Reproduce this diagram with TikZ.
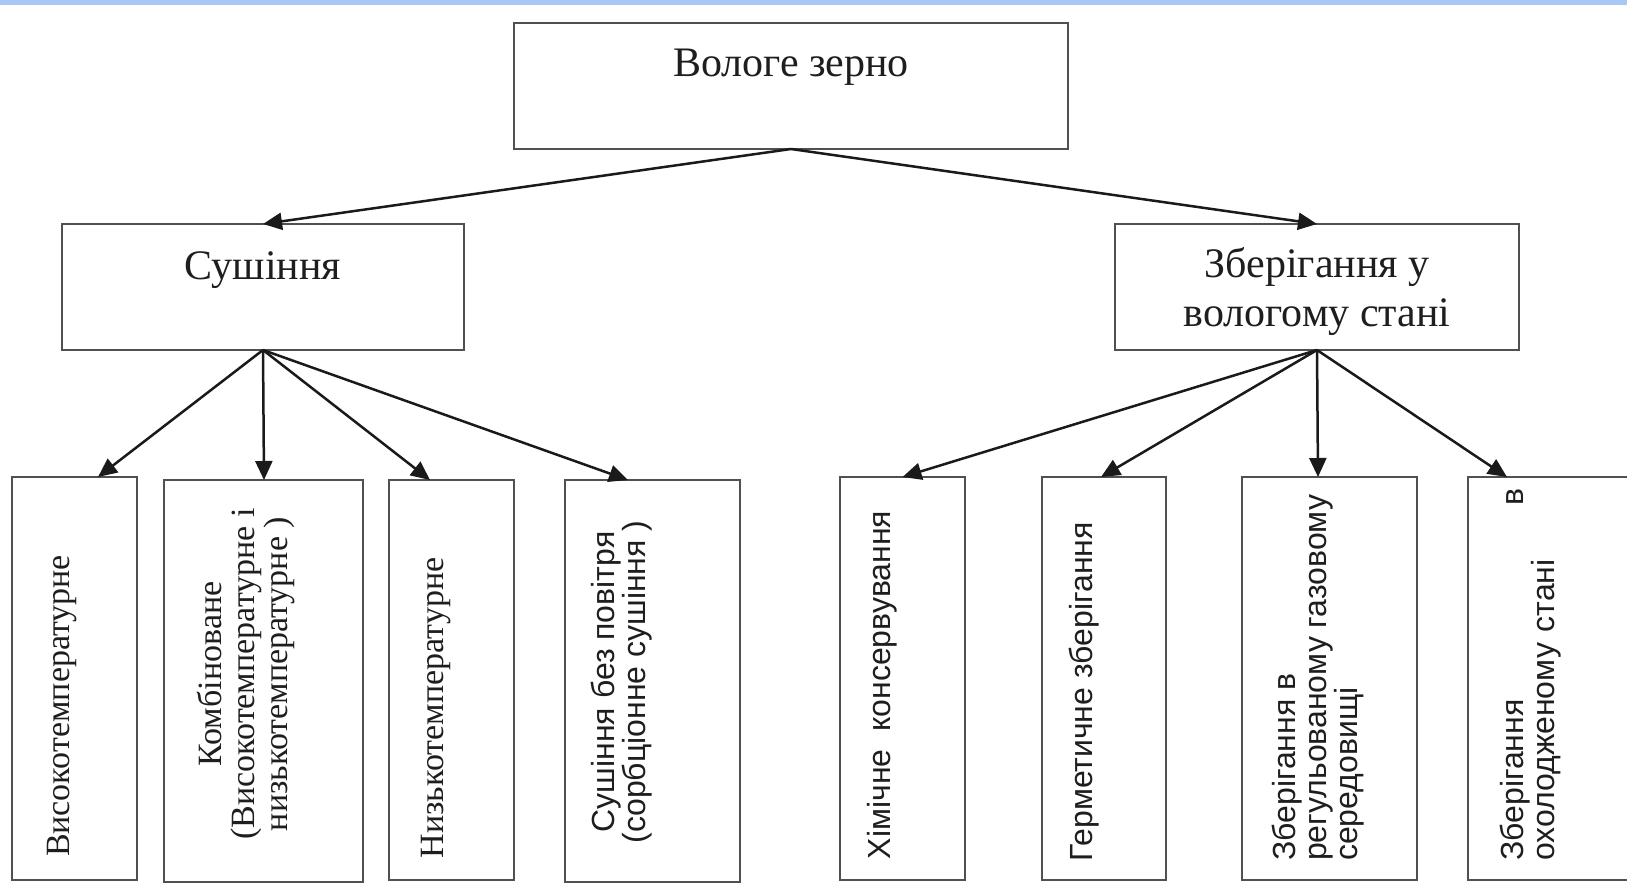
\documentclass[tikz,border=0pt]{standalone}
\usepackage{fontspec}
\setmainfont{Liberation Serif}
\setsansfont{Liberation Sans}
\usetikzlibrary{arrows.meta,calc}
\definecolor{boxgray}{HTML}{505050}
\definecolor{txt}{HTML}{1E1E1E}
\definecolor{arrcol}{HTML}{1A1A1A}
\definecolor{bandblue}{HTML}{A9C8F6}
\begin{document}
\begin{tikzpicture}[x=1pt,y=-1pt,
  box/.style={draw=boxgray,line width=2pt,inner sep=0pt,outer sep=0pt},
  big/.style={font=\fontsize{42}{49}\selectfont,text=txt,align=center,inner sep=0pt},
  serv/.style={font=\fontsize{34}{33}\selectfont,text=txt,rotate=90,inner sep=0pt},
  sansv/.style={font=\sffamily\fontsize{32}{31}\selectfont,text=txt,rotate=90,inner sep=0pt},
  arr/.style={draw=arrcol,line width=2.5pt,-{Triangle[length=19pt,width=17pt]}}
]
\useasboundingbox (0,0) rectangle (1627,884);
\fill[bandblue] (0,0) rectangle (1627,5);

% boxes
\node[box,minimum width=554pt,minimum height=126pt] (top) at (791,86) {};
\node[box,minimum width=402pt,minimum height=126pt] (sush) at (263,287) {};
\node[box,minimum width=404pt,minimum height=126pt] (zber) at (1317,287) {};

\node[box,minimum width=125pt,minimum height=403pt] (b1) at (74.5,678.5) {};
\node[box,minimum width=199pt,minimum height=402pt] (b2) at (263.5,681) {};
\node[box,minimum width=125pt,minimum height=400pt] (b3) at (451.5,680) {};
\node[box,minimum width=175pt,minimum height=402pt] (b4) at (652.5,681) {};
\node[box,minimum width=125pt,minimum height=403pt] (b5) at (902.5,678.5) {};
\node[box,minimum width=124pt,minimum height=403pt] (b6) at (1104,678.5) {};
\node[box,minimum width=175pt,minimum height=403pt] (b7) at (1329.5,678.5) {};
\node[box,minimum width=192pt,minimum height=403pt] (b8) at (1564,678.5) {};

% texts
\node[big] (ttop) at ($(top.north)+(0,44)$) {Вологе зерно};
\node[big] (tsush) at ($(sush.north)+(0,46)$) {Сушіння};
\node[big] (tzber) at (1317,291) {Зберігання у\\вологому стані};

\node[serv] (t1) at (62,706) {Високотемпературне};
\node[serv,align=center] (t2) at (245.5,674) {Комбіноване\\(Високотемпературне і\\низькотемпературне )};
\node[serv] (t3) at (436,708) {Низькотемпературне};
\node[sansv,align=center] (t4) at (622,682) {Сушіння без повітря\\(сорбціонне сушіння )};
\node[sansv] (t5) at (882,685) {Хімічне\ \ консервування};
\node[sansv] (t6) at (1084,692) {Герметичне зберігання};
\node[sansv,align=left,anchor=west] (t7) at (1318,861) {Зберігання в\\регульованому газовому\\середовищі};
\node[sansv,align=left,anchor=west,text width=372pt] (t8) at (1530.5,861) {Зберігання\hfill в\\охолодженому стані};

% arrow targets
\coordinate (a1) at ($(b1.north west)+(86,0)$);
\coordinate (a2) at ($(b2.north west)+(100,0)$);
\coordinate (a3) at ($(b3.north west)+(41,0)$);
\coordinate (a4) at ($(b4.north west)+(63,0)$);
\coordinate (a5) at (b5.north);
\coordinate (a6) at ($(b6.north west)+(59,0)$);
\coordinate (a7) at ($(b7.north west)+(76,0)$);
\coordinate (a8) at ($(b8.north west)+(39,0)$);

% connectors
\draw[arr] (top.south) -- (sush.north);
\draw[arr] (top.south) -- (zber.north);
\foreach \t in {a1,a2,a3,a4} \draw[arr] (sush.south) -- (\t);
\foreach \t in {a5,a6,a7,a8} \draw[arr] (zber.south) -- (\t);
\end{tikzpicture}
\end{document}
